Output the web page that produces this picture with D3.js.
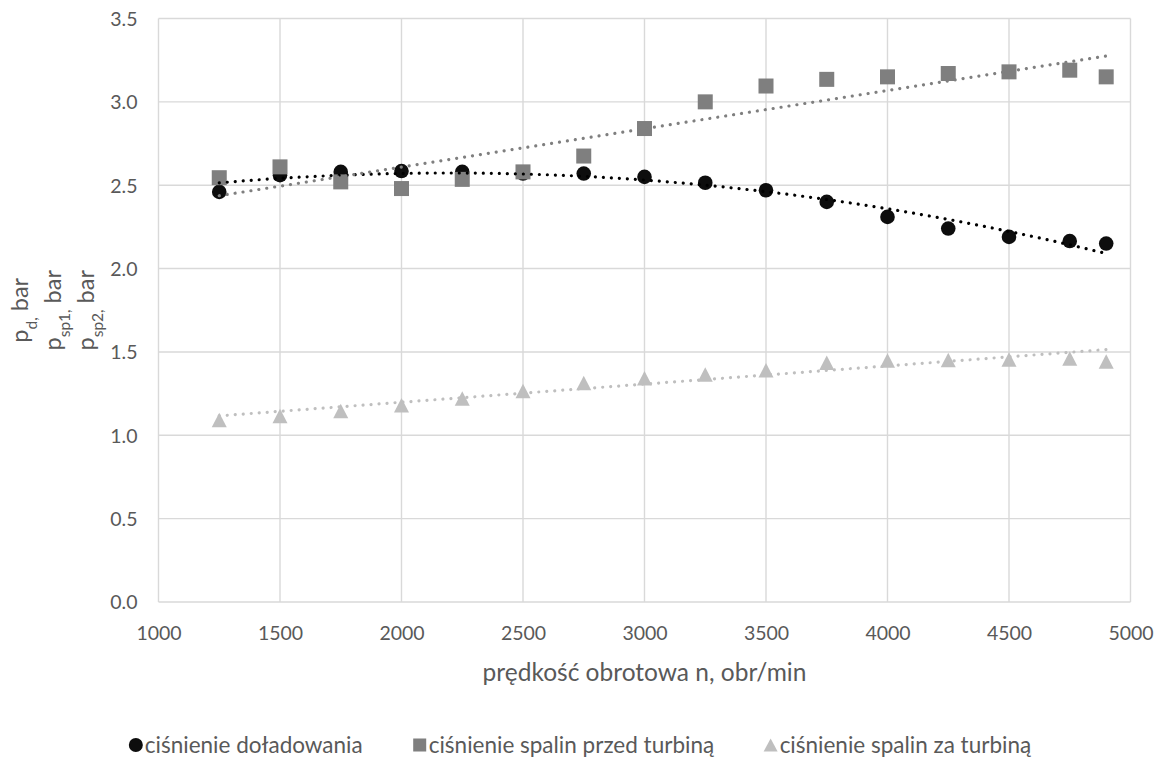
<!DOCTYPE html>
<html>
<head>
<meta charset="utf-8">
<script src="https://cdn.jsdelivr.net/npm/d3@7"></script>
<style>
  html, body { margin: 0; padding: 0; background: #fff; }
  svg { display: block; }
  text { font-family: Lato, "Open Sans", sans-serif; fill: #595959; }
</style>
</head>
<body>
<svg id="chart" width="1160" height="757"></svg>
<script>
// Engine speed, rpm
const speeds = [1250, 1500, 1750, 2000, 2250, 2500, 2750, 3000, 3250, 3500, 3750, 4000, 4250, 4500, 4750, 4900];
// Boost pressure p_d, bar
const boostPressure = [2.46, 2.56, 2.58, 2.585, 2.58, 2.57, 2.57, 2.55, 2.515, 2.47, 2.40, 2.31, 2.24, 2.19, 2.165, 2.15];
// Exhaust pressure upstream of turbine p_sp1, bar
const exhaustBefore = [2.545, 2.61, 2.52, 2.48, 2.535, 2.58, 2.675, 2.84, 3.00, 3.095, 3.135, 3.15, 3.17, 3.18, 3.19, 3.15];
// Exhaust pressure downstream of turbine p_sp2, bar
const exhaustAfter = [1.092, 1.115, 1.145, 1.18, 1.22, 1.265, 1.313, 1.342, 1.365, 1.39, 1.435, 1.448, 1.452, 1.455, 1.46, 1.442];

const xTicks = [1000, 1500, 2000, 2500, 3000, 3500, 4000, 4500, 5000];
const yTicks = [0, 0.5, 1.0, 1.5, 2.0, 2.5, 3.0, 3.5];

const seriesNames = ["ciśnienie doładowania", "ciśnienie spalin przed turbiną", "ciśnienie spalin za turbiną"];
const xTitle = "prędkość obrotowa n, obr/min";
const ySubscripts = ["d", "sp1", "sp2"];

const svg = d3.select("#chart");
const plot = { left: 158.5, right: 1130.5, top: 18.5, bottom: 602 };

const x = d3.scaleLinear().domain([1000, 5000]).range([plot.left, plot.right]);
const y = d3.scaleLinear().domain([0, 3.5]).range([plot.bottom, plot.top]);

const gridColor = "#d9d9d9";

// Gridlines
const grid = svg.append("g");
grid.selectAll("line.v").data(xTicks).join("line")
  .attr("x1", d => x(d)).attr("x2", d => x(d))
  .attr("y1", plot.top).attr("y2", plot.bottom)
  .attr("stroke", gridColor).attr("stroke-width", 1.4);
grid.selectAll("line.h").data(yTicks).join("line")
  .attr("x1", plot.left).attr("x2", plot.right)
  .attr("y1", d => y(d)).attr("y2", d => y(d))
  .attr("stroke", gridColor).attr("stroke-width", 1.4);

// Axes (labels only; lines come from the grid)
const xAxis = d3.axisBottom(x).tickValues(xTicks).tickSize(0).tickPadding(0).tickFormat(d3.format("d"));
const gx = svg.append("g").attr("transform", `translate(0,${plot.bottom})`).call(xAxis);
gx.select(".domain").remove();
gx.selectAll("text").attr("dy", null).attr("y", 38).style("font-size", "19.5px")
  .style("font-family", "Lato, sans-serif").attr("fill", "#595959");

const yAxis = d3.axisLeft(y).tickValues(yTicks).tickSize(0).tickPadding(0).tickFormat(d3.format(".1f"));
const gy = svg.append("g").attr("transform", `translate(${plot.left},0)`).call(yAxis);
gy.select(".domain").remove();
gy.selectAll("text").attr("x", -21).attr("dy", "0.35em").style("font-size", "19.5px")
  .style("font-family", "Lato, sans-serif").attr("fill", "#595959");

// Axis titles
svg.append("text")
  .attr("x", (plot.left + plot.right) / 2).attr("y", 681)
  .attr("text-anchor", "middle").style("font-size", "24.5px")
  .text(xTitle);

const yLabelX = [28, 61, 94];
ySubscripts.forEach((sub, i) => {
  const t = svg.append("text")
    .attr("transform", `translate(${yLabelX[i]},${(plot.top + plot.bottom) / 2}) rotate(-90)`)
    .attr("text-anchor", "middle").style("font-size", "23.5px");
  t.append("tspan").text("p");
  t.append("tspan").attr("baseline-shift", "sub").style("font-size", "15.5px").text(sub + ",");
  t.append("tspan").text(" bar");
});

// Trendlines
function linearFit(xs, ys) {
  const n = xs.length, mx = d3.mean(xs), my = d3.mean(ys);
  let sxy = 0, sxx = 0;
  for (let i = 0; i < n; i++) { sxy += (xs[i] - mx) * (ys[i] - my); sxx += (xs[i] - mx) ** 2; }
  const b = sxy / sxx, a = my - b * mx;
  return v => a + b * v;
}
function quadFit(xs, ys) {
  // Normal equations for y = a + b*t + c*t^2, t centred and scaled for stability
  const m = d3.mean(xs), s = 1000;
  const ts = xs.map(v => (v - m) / s);
  const S = k => d3.sum(ts, t => t ** k);
  const T = k => d3.sum(ts.map((t, i) => ys[i] * t ** k));
  const A = [[S(0), S(1), S(2)], [S(1), S(2), S(3)], [S(2), S(3), S(4)]];
  const B = [T(0), T(1), T(2)];
  for (let i = 0; i < 3; i++) {
    for (let j = i + 1; j < 3; j++) {
      const f = A[j][i] / A[i][i];
      for (let k = i; k < 3; k++) A[j][k] -= f * A[i][k];
      B[j] -= f * B[i];
    }
  }
  const c = B[2] / A[2][2];
  const b = (B[1] - A[1][2] * c) / A[1][1];
  const a = (B[0] - A[0][1] * b - A[0][2] * c) / A[0][0];
  return v => { const t = (v - m) / s; return a + b * t + c * t * t; };
}

const xMin = d3.min(speeds), xMax = d3.max(speeds);
const samples = d3.range(0, 101).map(i => xMin + (xMax - xMin) * i / 100);
const line = d3.line().x(d => x(d[0])).y(d => y(d[1]));

const trends = [
  { f: quadFit(speeds, boostPressure), color: "#000000" },
  { f: linearFit(speeds, exhaustBefore), color: "#7f7f7f" },
  { f: linearFit(speeds, exhaustAfter), color: "#bfbfbf" }
];

// Markers
const circleColor = "#0d0d0d", squareColor = "#7f7f7f", triColor = "#bfbfbf";
const marks = svg.append("g");
marks.selectAll("circle").data(speeds).join("circle")
  .attr("cx", d => x(d)).attr("cy", (d, i) => y(boostPressure[i]))
  .attr("r", 7.3).attr("fill", circleColor);
const sq = 15;
marks.selectAll("rect").data(speeds).join("rect")
  .attr("x", d => x(d) - sq / 2).attr("y", (d, i) => y(exhaustBefore[i]) - sq / 2)
  .attr("width", sq).attr("height", sq).attr("fill", squareColor);
const tri = (cx, cy, w, h) => `M${cx},${cy - h / 2}L${cx + w / 2},${cy + h / 2}L${cx - w / 2},${cy + h / 2}Z`;
marks.selectAll("path.tri").data(speeds).join("path").attr("class", "tri")
  .attr("d", (d, i) => tri(x(d), y(exhaustAfter[i]), 15, 14.5))
  .attr("fill", triColor);

const trendG = svg.append("g");
trends.forEach(t => {
  trendG.append("path")
    .attr("d", line(samples.map(v => [v, t.f(v)])))
    .attr("fill", "none").attr("stroke", t.color)
    .attr("stroke-width", 3.2).attr("stroke-linecap", "round")
    .attr("stroke-dasharray", "0.01 8");
});

// Legend, centred in the chart
const legend = svg.append("g");
const legendY = 745;
const legendFont = "22.5px";
const items = legend.selectAll("g.item").data(seriesNames).join("g").attr("class", "item");
items.append("text").attr("x", 16).attr("y", legendY).attr("dy", "0.35em")
  .style("font-size", legendFont).text(d => d);
items.each(function(d, i) {
  const g = d3.select(this);
  if (i === 0) g.append("circle").attr("cx", 7).attr("cy", legendY).attr("r", 7).attr("fill", circleColor);
  if (i === 1) g.append("rect").attr("x", 0.5).attr("y", legendY - 6.5).attr("width", 13).attr("height", 13).attr("fill", squareColor);
  if (i === 2) g.append("path").attr("d", tri(7, legendY, 14, 13)).attr("fill", triColor);
});
const gap = 50;
const widths = [];
items.each(function() { widths.push(this.getBBox().width); });
const total = d3.sum(widths) + gap * (widths.length - 1);
let cursor = 580 - total / 2;
items.each(function(d, i) {
  d3.select(this).attr("transform", `translate(${cursor},0)`);
  cursor += widths[i] + gap;
});
</script>
</body>
</html>
